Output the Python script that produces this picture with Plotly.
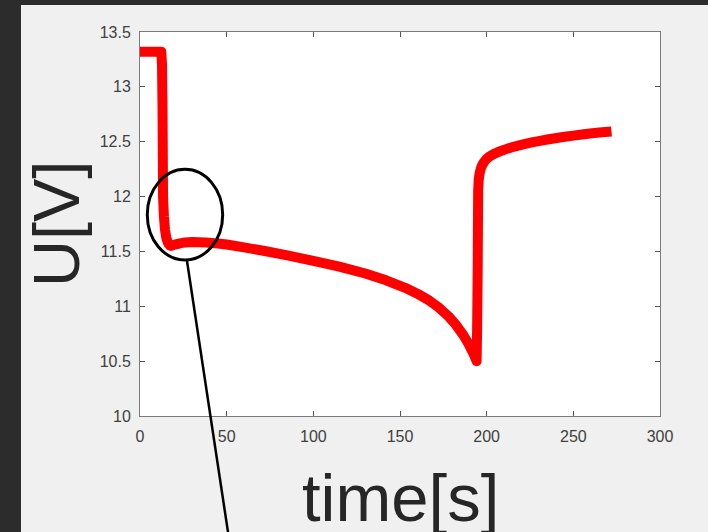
import plotly.graph_objects as go

# time [s]
time_s = [0, 12.3, 12.7, 13.0, 13.3, 13.8, 14.4, 15.2, 16.2, 17.3, 18, 20, 23, 26, 30, 38,
          45, 50, 60, 72, 85, 100, 115, 130, 142, 153, 160, 167, 172, 178, 182, 186.5,
          189.5, 192.3, 193.3, 194.2, 194.5, 194.8, 195.0, 195.1, 195.4, 195.9, 196.6,
          197.5, 198.5, 200, 202, 204, 206, 209, 212, 216, 221, 226, 230, 235, 240.4,
          245, 250, 255, 259.6, 265, 272]
# voltage [V]
voltage = [13.32, 13.32, 13.2, 12.8, 12.0, 11.82, 11.7, 11.62, 11.575, 11.555, 11.55,
           11.562, 11.574, 11.582, 11.585, 11.5815, 11.5726, 11.563, 11.537, 11.504,
           11.464, 11.414, 11.361, 11.2985, 11.237, 11.1685, 11.115, 11.051, 10.994,
           10.908, 10.836, 10.738, 10.658, 10.570, 10.535, 10.50, 10.8, 11.3, 11.8,
           12.05, 12.15, 12.21, 12.255, 12.29, 12.315, 12.345, 12.3687, 12.3867, 12.4015,
           12.4203, 12.4368, 12.4557, 12.4761, 12.4936, 12.5061, 12.5203, 12.5341,
           12.545, 12.5559, 12.5659, 12.5741, 12.5833, 12.594]

x_ticks = [0, 50, 100, 150, 200, 250, 300]
y_ticks = [10, 10.5, 11, 11.5, 12, 12.5, 13, 13.5]
y_tick_labels = ["10", "10.5", "11", "11.5", "12", "12.5", "13", "13.5"]

# highlighted region (ellipse) in data units
ell_x = [4.2, 47.7]
ell_y = [11.422, 12.248]

W, H = 708, 532
ML, MR, MT, MB = 140, 48, 32, 116
PW, PH = W - ML - MR, H - MT - MB


def px(xp):
    return (xp - ML) / PW


def py(yp):
    return (H - MB - yp) / PH


fig = go.Figure()
fig.add_trace(go.Scatter(x=time_s, y=voltage, mode="lines",
                         line=dict(color="#ff0000", width=10, simplify=False),
                         hoverinfo="skip", showlegend=False))

axis_common = dict(showline=True, linecolor="#7a7a7a", linewidth=1, mirror="ticks",
                   ticks="inside", ticklen=5, tickcolor="#555555", tickwidth=1,
                   showgrid=False, zeroline=False,
                   tickfont=dict(family="Liberation Sans, Arial", size=16, color="#404040"))

fig.update_xaxes(range=[0, 300], tickvals=x_ticks, ticklabelstandoff=6, **axis_common)
fig.update_yaxes(range=[10, 13.5], tickvals=y_ticks, ticktext=y_tick_labels,
                 ticklabelstandoff=5, **axis_common)

shapes = [
    # dark surround
    dict(type="rect", xref="paper", yref="paper", x0=px(0), x1=px(21), y0=py(H), y1=py(0),
         fillcolor="#2c2c2c", line=dict(width=0), layer="below"),
    dict(type="rect", xref="paper", yref="paper", x0=px(0), x1=px(W), y0=py(5), y1=py(0),
         fillcolor="#2c2c2c", line=dict(width=0), layer="below"),
    # ellipse highlight
    dict(type="circle", xref="x", yref="y", x0=ell_x[0], x1=ell_x[1], y0=ell_y[0], y1=ell_y[1],
         line=dict(color="black", width=3)),
    # pointer line
    dict(type="line", xref="paper", yref="paper", x0=px(187), y0=py(261), x1=px(229.5), y1=py(542),
         line=dict(color="black", width=2.5)),
]

annotations = [
    dict(text="time[s]", xref="paper", yref="paper", x=px(400), y=py(497),
         xanchor="center", yanchor="middle", showarrow=False,
         font=dict(family="Liberation Sans, Arial", size=67, color="#262626")),
    dict(text="U[V]", xref="paper", yref="paper", x=px(56), y=py(224),
         xanchor="center", yanchor="middle", showarrow=False, textangle=-90,
         font=dict(family="Liberation Sans, Arial", size=65, color="#262626")),
]

fig.update_layout(width=W, height=H, margin=dict(l=ML, r=MR, t=MT, b=MB, pad=0),
                  paper_bgcolor="#f0f0f0", plot_bgcolor="white",
                  shapes=shapes, annotations=annotations, showlegend=False)

post = """
document.body.style.margin = '0';
document.body.style.overflow = 'hidden';
var st = document.createElement('style');
st.textContent = '.js-line { stroke-linejoin: round !important; stroke-linecap: butt; }';
document.head.appendChild(st);
"""

fig.write_html("out.html", config={"displayModeBar": False}, post_script=post)
